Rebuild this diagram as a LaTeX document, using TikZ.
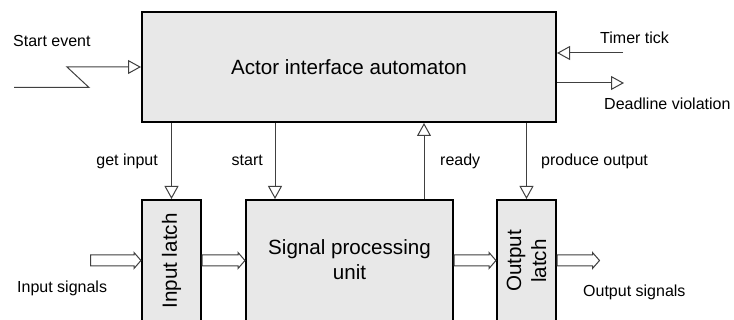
\documentclass[tikz,border=0pt]{standalone}
\usepackage{fontspec}
\setmainfont{Liberation Sans}
\usetikzlibrary{arrows.meta,calc}
\tikzset{
  box/.style={draw=black, line width=2pt, fill=boxgray, inner sep=0pt},
  arr/.style={draw=linegray, line width=1pt, -{Triangle[open, length=13pt, width=14pt, fill=white]}},
  blockarr/.style={draw=linegray, line width=1pt, fill=white, line join=miter},
  small/.style={font=\fontsize{16}{19}\selectfont, inner sep=0pt},
  big/.style={font=\fontsize{20.6}{25}\selectfont, align=center, inner sep=0pt},
}
\definecolor{boxgray}{HTML}{E8E8E8}
\definecolor{linegray}{HTML}{404040}
\newcommand{\blockarrow}[2]{%
  \draw[blockarr] let \p1=#1, \p2=#2 in
    (\x1,\y1+5.5pt) -- (\x2-7pt,\y1+5.5pt) -- (\x2-7pt,\y1+8pt) -- (\x2,\y1)
    -- (\x2-7pt,\y1-8pt) -- (\x2-7pt,\y1-5.5pt) -- (\x1,\y1-5.5pt) -- cycle;}
\begin{document}
\begin{tikzpicture}[x=1pt,y=-1pt]
\useasboundingbox (0,0) rectangle (734,320);
\begin{scope}
\clip (0,0) rectangle (734,320);
% boxes
\node[box, minimum width=414pt, minimum height=110pt] (main) at (349,67) {};
\node[big] at (main.center) {Actor interface automaton};
\node[box, minimum width=59pt, minimum height=122pt] (il) at (171.5,261) {};
\node[big, rotate=90] at (il.center) {Input latch};
\node[box, minimum width=207pt, minimum height=122pt] (spu) at (349.5,261) {};
\node[big] at (349.5,259.5) {Signal processing\\unit};
\node[box, minimum width=59pt, minimum height=122pt] (ol) at (526.5,261) {};
\node[big, rotate=90] at (ol.center) {Output\\latch};
\end{scope}

% start event
\coordinate (se) at (14,87.5);
\draw[arr] (se) -- (89,87.5) -- (67,67) -- (main.west);
\node[small, anchor=base west] at (13,46.5) {Start event};

% timer tick
\coordinate (tt) at (623,53);
\draw[arr] (tt) -- (main.east |- tt);
\node[small, anchor=base west] at (600,44) {Timer tick};

% deadline violation
\coordinate (dv) at (624,83);
\draw[arr] (main.east |- dv) -- (dv);
\node[small, anchor=base west] at (604,110) {Deadline violation};

% vertical control arrows
\coordinate (stx) at ($(spu.north west)+(30,0)$);
\coordinate (rdx) at ($(spu.north east)+(-30,0)$);
\draw[arr] (il.north |- main.south) -- (il.north);
\draw[arr] (stx |- main.south) -- (stx);
\draw[arr] (rdx) -- (rdx |- main.south);
\draw[arr] (ol.north |- main.south) -- (ol.north);
\node[small, anchor=base east] at (158,165.5) {get input};
\node[small, anchor=base east] at (263,165.5) {start};
\node[small, anchor=base west] at (440,165.5) {ready};
\node[small, anchor=base west] at (541,165.5) {produce output};

% block arrows
\coordinate (isig) at (90.5,260.5);
\coordinate (osig) at (599.5,260.5);
\blockarrow{(isig)}{(il.west |- isig)}
\blockarrow{(il.east |- isig)}{(spu.west |- isig)}
\blockarrow{(spu.east |- isig)}{(ol.west |- isig)}
\blockarrow{(ol.east |- isig)}{(osig)}
\node[small, anchor=base west] at (17,293) {Input signals};
\node[small, anchor=base west] at (583,296.5) {Output signals};
\end{tikzpicture}
\end{document}
